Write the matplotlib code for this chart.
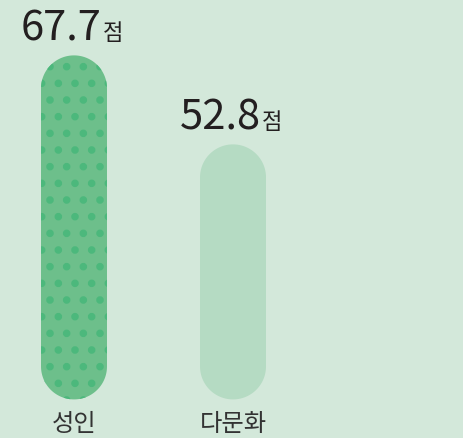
import matplotlib
matplotlib.use('Agg')
import numpy as np
import matplotlib.pyplot as plt
from matplotlib.patches import Polygon

# data
categories = ['성인', '다문화']
scores = [67.7, 52.8]
unit = '점'

base = 10.1
bar_w = 0.415
fills = ['#6dbf8b', '#b5dbc3']
hatches = ['.', None]
dot_color = '#4cb87c'
bg = '#d3e8da'

plt.rcParams['font.family'] = ['Noto Sans CJK KR', 'DejaVu Sans']
plt.rcParams['hatch.linewidth'] = 3.0

fig = plt.figure(figsize=(4.63, 4.39), dpi=100)
fig.patch.set_facecolor(bg)
ax = fig.add_axes([0, 0, 1, 1])
ax.set_facecolor(bg)
ax.set_xlim(-0.4654, 2.4465)
ax.set_ylim(3.64, 77.14)
ax.axis('off')

# y-units per x-unit on screen, so the caps come out as half circles
x0, x1 = ax.get_xlim()
y0, y1 = ax.get_ylim()
aspect = ((y1 - y0) / 439) / ((x1 - x0) / 463)


def capsule(xc, bottom, top, w):
    rx = w / 2
    ry = rx * aspect
    t = np.linspace(0, np.pi, 60)
    upper = np.column_stack([xc + rx * np.cos(t), top - ry + ry * np.sin(t)])
    lower = np.column_stack([xc - rx * np.cos(t), bottom + ry - ry * np.sin(t)])
    return np.vstack([upper, lower])


for i, v in enumerate(scores):
    p = Polygon(capsule(i, base, v, bar_w), closed=True,
                facecolor=fills[i], edgecolor=dot_color if hatches[i] else 'none',
                linewidth=0, hatch=hatches[i])
    ax.add_patch(p)
    ax.annotate('%.1f' % v, xy=(i, v), xytext=(20, 11.5), textcoords='offset points',
                ha='right', va='baseline', fontsize=30, fontweight='medium',
                color='#231f20')
    ax.annotate(unit, xy=(i, v), xytext=(20.5, 11.5), textcoords='offset points',
                ha='left', va='baseline', fontsize=16, color='#231f20')
    ax.text(i, 0.034, categories[i], transform=ax.get_xaxis_transform(),
            ha='center', va='center', fontsize=17.5, color='#333333')

plt.savefig('out.png', dpi=100, facecolor=bg)
